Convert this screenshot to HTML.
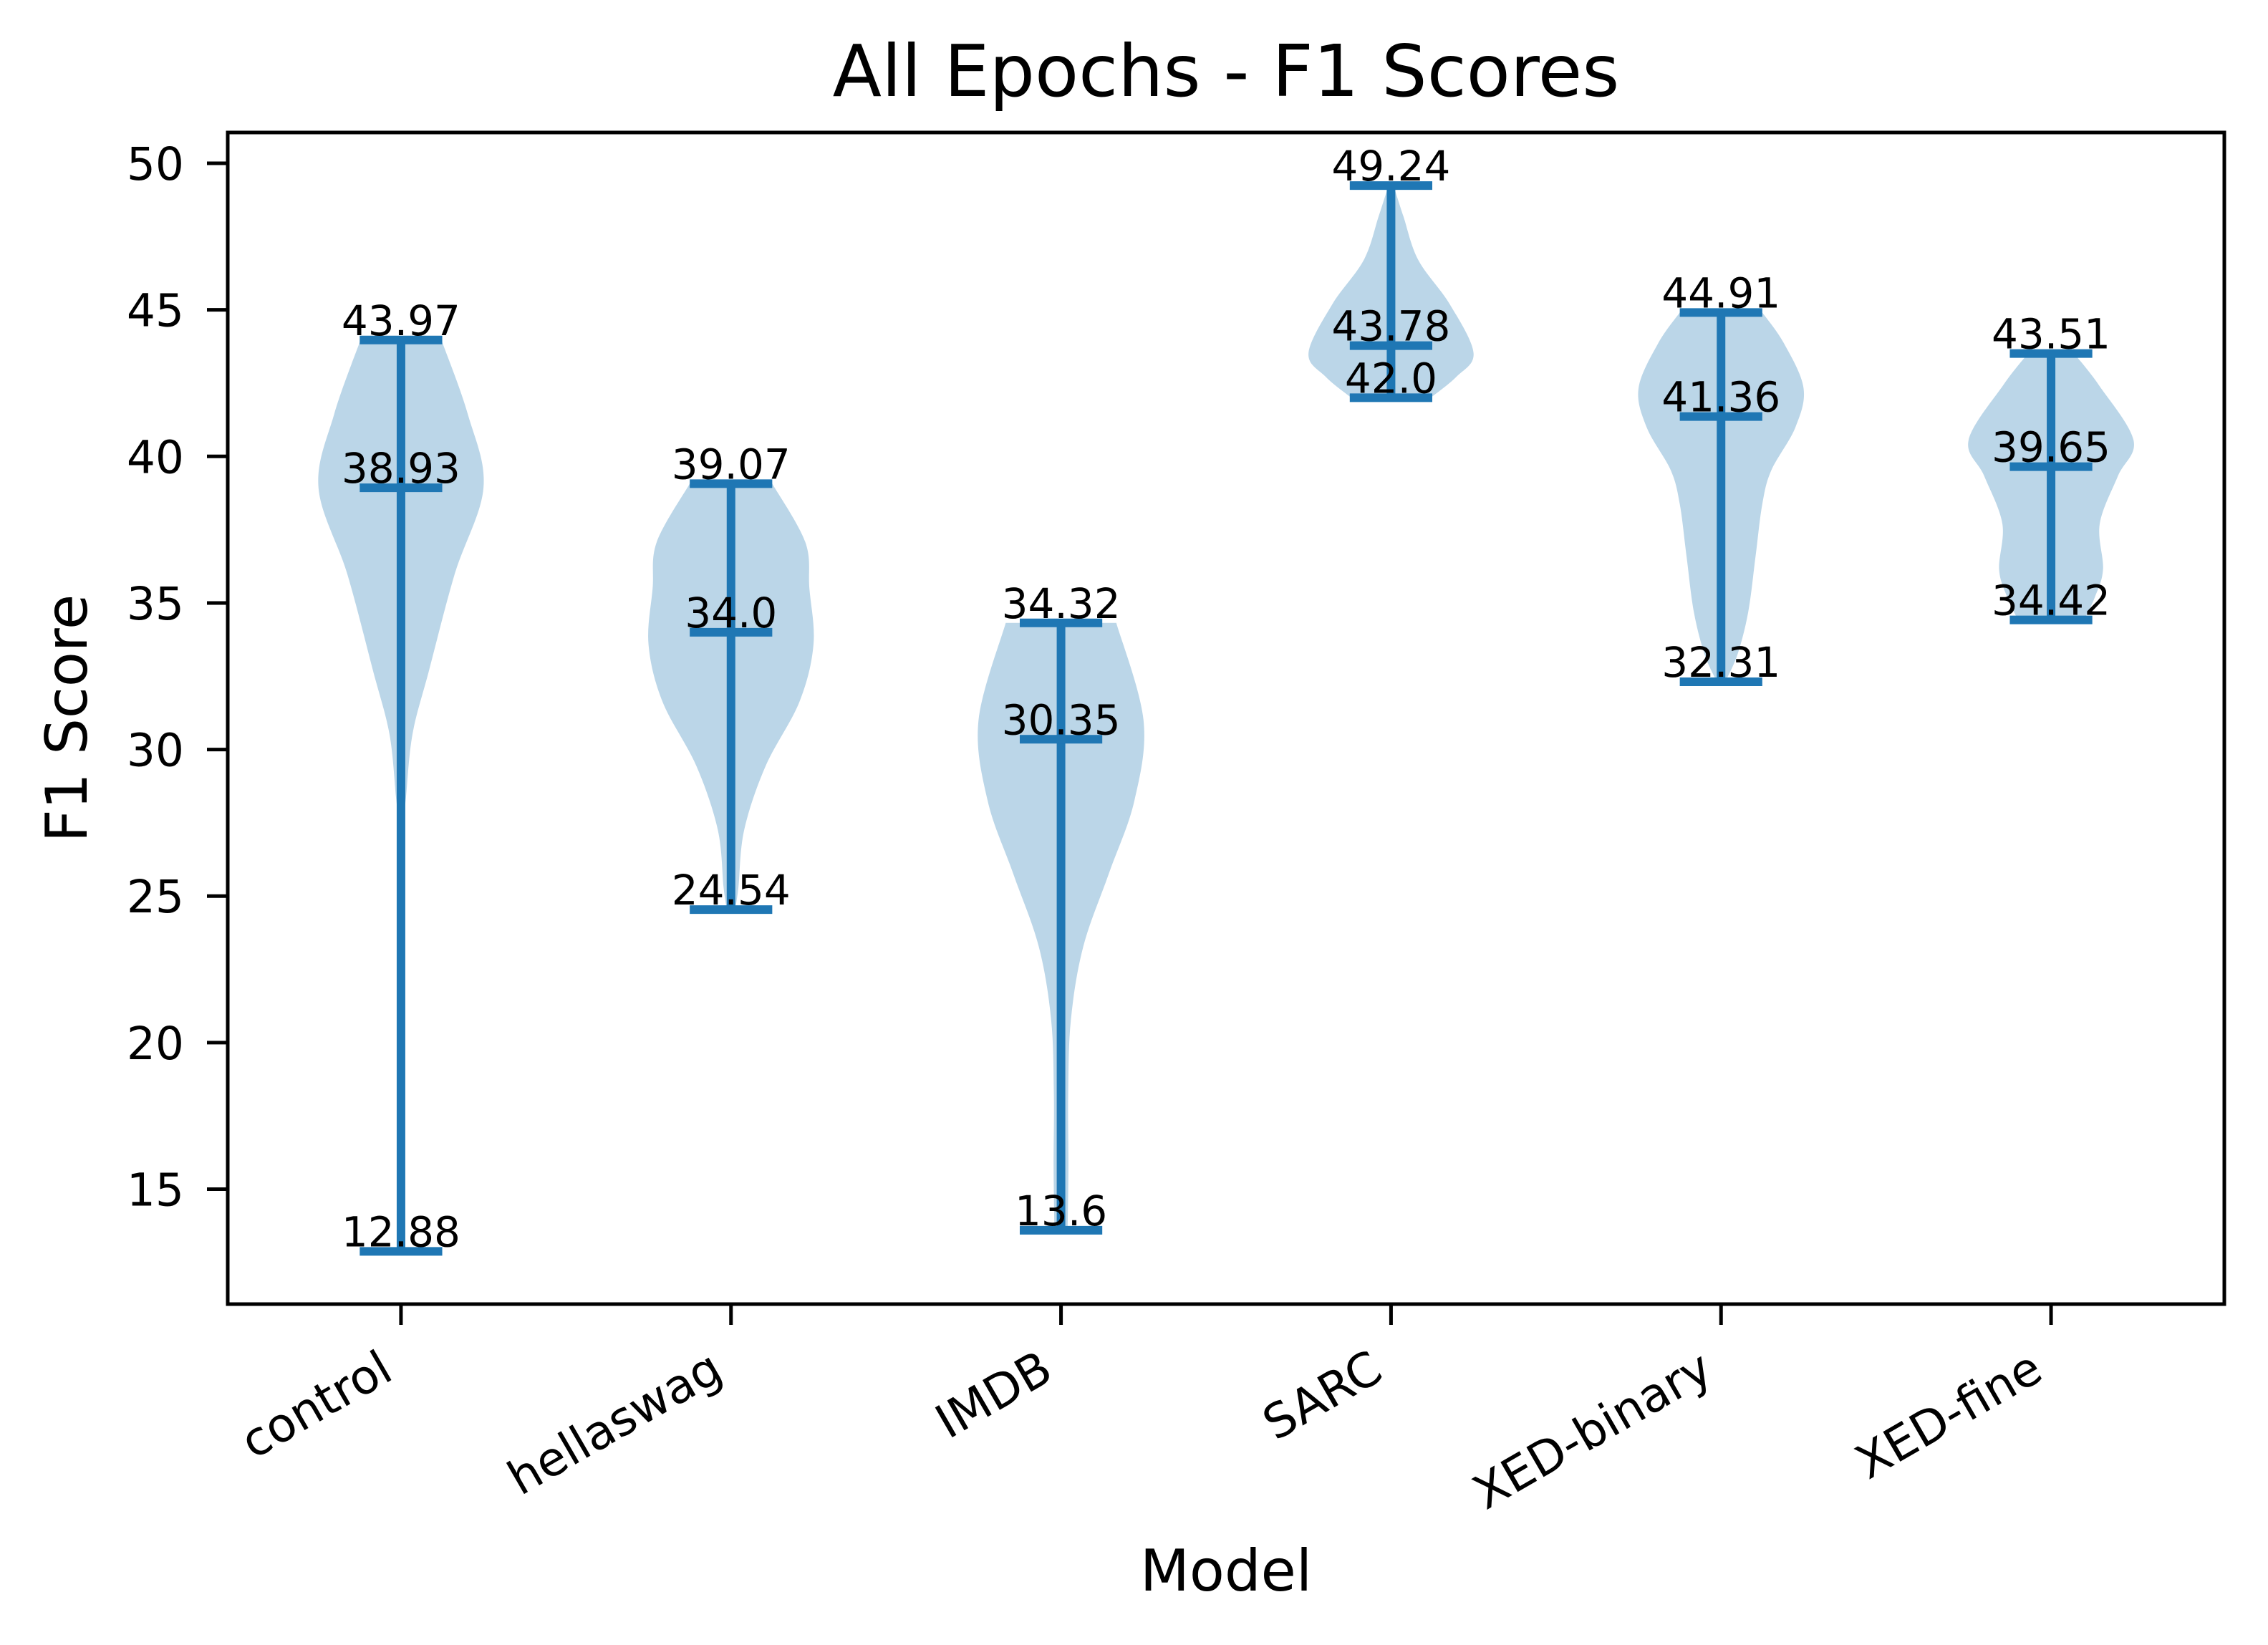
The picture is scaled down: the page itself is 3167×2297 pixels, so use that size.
<!DOCTYPE html>
<html><head><meta charset="utf-8"><style>
html,body{margin:0;padding:0;background:#fff;}
svg{display:block;}
text{font-family:"DejaVu Sans","Liberation Sans",sans-serif;fill:#000;}
</style></head><body>
<svg id="chart" width="3167" height="2297" viewBox="0 0 3167 2297" xmlns="http://www.w3.org/2000/svg">
<rect x="0" y="0" width="3167" height="2297" fill="#fff"/>
<g id="violins"></g>
<g id="axes"></g>
<text x="1712" y="134" font-size="100" text-anchor="middle">All Epochs - F1 Scores</text>
<text x="1712" y="2221" font-size="80" text-anchor="middle">Model</text>
<text transform="translate(121,1003) rotate(-90)" font-size="80" text-anchor="middle">F1 Score</text>
</svg>
<script>
const categories = ["control","hellaswag","IMDB","SARC","XED-binary","XED-fine"];
const minVals = [12.88, 24.54, 13.6, 42.0, 32.31, 34.42];
const medianVals = [38.93, 34.0, 30.35, 43.78, 41.36, 39.65];
const maxVals = [43.97, 39.07, 34.32, 49.24, 44.91, 43.51];
const minLabels = ["12.88","24.54","13.6","42.0","32.31","34.42"];
const medianLabels = ["38.93","34.0","30.35","43.78","41.36","39.65"];
const maxLabels = ["43.97","39.07","34.32","49.24","44.91","43.51"];
// density profiles: [value, relative half-width]
const profileControl = [[12.88,0.004],[20,0.005],[26,0.01],[27.26,0.02],[28.36,0.06],[30.53,0.14],[32.7,0.34],[35.98,0.65],[38.93,1.0],[41.44,0.81],[43.97,0.49]];
const profileHellaswag = [[24.54,0.05],[25.3,0.09],[27.26,0.16],[29.44,0.42],[31.63,0.83],[33.59,1.0],[35.5,0.95],[37.08,0.9],[39.07,0.5]];
const profileImdb = [[13.6,0.08],[15.78,0.09],[18.27,0.087],[20.79,0.12],[23.28,0.27],[25.77,0.58],[28.26,0.89],[31.0,1.0],[34.32,0.67]];
const profileSarc = [[42.0,0.48],[42.71,0.79],[43.53,1.0],[45.2,0.71],[46.7,0.33],[48.19,0.15],[49.24,0.03]];
const profileXedBinary = [[32.31,0.05],[33.25,0.2],[34.7,0.33],[36.63,0.42],[38.37,0.5],[39.53,0.61],[40.98,0.9],[42.33,1.0],[43.87,0.76],[44.91,0.5]];
const profileXedFine = [[34.42,0.4],[35.19,0.53],[36.15,0.63],[37.7,0.59],[39.33,0.81],[40.55,1.0],[42.43,0.58],[43.51,0.28]];
const profiles = [profileControl, profileHellaswag, profileImdb, profileSarc, profileXedBinary, profileXedFine];
const yTicks = [15,20,25,30,35,40,45,50];

const NS = "http://www.w3.org/2000/svg";
const AX = {left:318, right:3106, top:185, bottom:1821};
const xMin = 0.475, xMax = 6.525, yMin = 11.08, yMax = 51.05;
function xScale(i){ return AX.left + (i - xMin) / (xMax - xMin) * (AX.right - AX.left); }
function yScale(v){ return AX.bottom - (v - yMin) / (yMax - yMin) * (AX.bottom - AX.top); }
const unitPx = (AX.right - AX.left) / (xMax - xMin);
const maxHalf = 0.25 * unitPx;
const capHalf = 0.125 * unitPx;
const blue = "#1f77b4";

function mk(tag, attrs, parent){
  const el = document.createElementNS(NS, tag);
  for (const k in attrs) el.setAttribute(k, attrs[k]);
  parent.appendChild(el);
  return el;
}
function smoothPath(pts){
  let d = "M" + pts[0][0] + "," + pts[0][1];
  for (let i = 0; i < pts.length - 1; i++){
    const p0 = pts[Math.max(0,i-1)], p1 = pts[i], p2 = pts[i+1], p3 = pts[Math.min(pts.length-1,i+2)];
    const c1x = p1[0] + (p2[0]-p0[0])/6, c1y = p1[1] + (p2[1]-p0[1])/6;
    const c2x = p2[0] - (p3[0]-p1[0])/6, c2y = p2[1] - (p3[1]-p1[1])/6;
    d += " C" + c1x + "," + c1y + " " + c2x + "," + c2y + " " + p2[0] + "," + p2[1];
  }
  return d;
}

const vg = document.getElementById("violins");
const ag = document.getElementById("axes");

categories.forEach((cat, i) => {
  const cx = xScale(i + 1);
  const prof = profiles[i];
  const right = prof.map(p => [cx + p[1]*maxHalf, yScale(p[0])]);
  const left = prof.slice().reverse().map(p => [cx - p[1]*maxHalf, yScale(p[0])]);
  const body = mk("path", {d: smoothPath(right) + " L" + smoothPath(left).slice(1) + " Z", fill: blue, "fill-opacity": 0.3, stroke: "none"}, vg);
  
  

  const stem = mk("line", {x1: cx, x2: cx, y1: yScale(minVals[i]), y2: yScale(maxVals[i]), stroke: blue, "stroke-width": 12}, vg);
  
  

  const capVals = [minVals[i], medianVals[i], maxVals[i]];
  const capLabels = [minLabels[i], medianLabels[i], maxLabels[i]];
  const capNames = ["min", "median", "max"];
  capVals.forEach((v, j) => {
    const c = mk("line", {x1: cx - capHalf, x2: cx + capHalf, y1: yScale(v), y2: yScale(v), stroke: blue, "stroke-width": 12}, vg);
    
    
    const t = mk("text", {x: cx, y: yScale(v) - 7, "font-size": 58, "text-anchor": "middle"}, vg);
    t.textContent = capLabels[j];
    
    
  });

  const tick = mk("line", {x1: cx, x2: cx, y1: AX.bottom, y2: AX.bottom + 29, stroke: "#000", "stroke-width": 5}, ag);
  
  
  const ax = cx - 8, ay = 1924;
  const lbl = mk("text", {x: 0, y: 0, "font-size": 66, "text-anchor": "end", transform: "translate(" + ax + "," + ay + ") rotate(-30)"}, ag);
  lbl.textContent = cat;
  
  
});

yTicks.forEach(v => {
  const y = yScale(v);
  const t = mk("line", {x1: AX.left - 29, x2: AX.left, y1: y, y2: y, stroke: "#000", "stroke-width": 5}, ag);
  
  
  const l = mk("text", {x: 257, y: y + 23, "font-size": 63, "text-anchor": "end"}, ag);
  l.textContent = String(v);
  
  
});

const frame = mk("rect", {x: AX.left, y: AX.top, width: AX.right - AX.left, height: AX.bottom - AX.top, fill: "none", stroke: "#000", "stroke-width": 5}, ag);


</script>
</body></html>
